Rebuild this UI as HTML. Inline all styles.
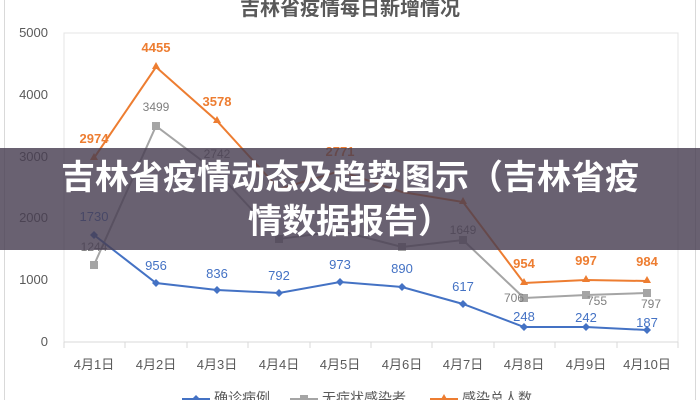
<!DOCTYPE html>
<html><head><meta charset="utf-8"><style>
body{margin:0;width:700px;height:400px;overflow:hidden;background:#fff;font-family:"Liberation Sans","Noto Sans CJK SC",sans-serif}
.ban{position:absolute;left:0;top:148px;width:700px;height:102px;background:rgba(72,62,82,0.82);color:#fff;font-weight:bold;font-size:34px;line-height:44px;text-align:center;font-family:"Liberation Sans","Noto Sans CJK SC",sans-serif;padding-top:8px;box-sizing:border-box}
</style></head><body>
<svg width="700" height="400" style="position:absolute;left:0;top:0" font-family="Liberation Sans, Noto Sans CJK SC, sans-serif">
<rect x="4.5" y="-5" width="691" height="420" fill="none" stroke="#d9d9d9"/>
<text x="350" y="15" text-anchor="middle" font-size="20" font-weight="bold" fill="#595959">吉林省疫情每日新增情况</text>
<rect x="64" y="33" width="614" height="309" fill="none" stroke="#e4e4e4"/>
<line x1="64" y1="342" x2="678" y2="342" stroke="#d9d9d9"/>
<g stroke="#d9d9d9">
<line x1="64" y1="342" x2="64" y2="348"/><line x1="125" y1="342" x2="125" y2="348"/><line x1="187" y1="342" x2="187" y2="348"/><line x1="248" y1="342" x2="248" y2="348"/><line x1="310" y1="342" x2="310" y2="348"/><line x1="371" y1="342" x2="371" y2="348"/><line x1="432" y1="342" x2="432" y2="348"/><line x1="494" y1="342" x2="494" y2="348"/><line x1="555" y1="342" x2="555" y2="348"/><line x1="617" y1="342" x2="617" y2="348"/><line x1="678" y1="342" x2="678" y2="348"/>
</g>
<g font-size="13" fill="#595959" text-anchor="end">
<text x="48" y="37">5000</text><text x="48" y="99">4000</text><text x="48" y="161">3000</text><text x="48" y="222">2000</text><text x="48" y="284">1000</text><text x="48" y="346">0</text>
</g>
<g font-size="13" fill="#595959" text-anchor="middle">
<text x="94" y="369">4月1日</text><text x="156" y="369">4月2日</text><text x="217" y="369">4月3日</text><text x="279" y="369">4月4日</text><text x="340" y="369">4月5日</text><text x="402" y="369">4月6日</text><text x="463" y="369">4月7日</text><text x="524" y="369">4月8日</text><text x="586" y="369">4月9日</text><text x="647" y="369">4月10日</text>
</g>
<!-- total -->
<polyline fill="none" stroke="#ed7d31" stroke-width="2" points="94,158 156,67 217,121 279,189 340,171 402,192 463,202 524,283 586,280 647,281"/>
<g fill="#ed7d31"><path d="M94,153 l4,7 h-8z"/><path d="M156,62 l4,7 h-8z"/><path d="M217,116 l4,7 h-8z"/><path d="M524,278 l4,7 h-8z"/><path d="M586,275 l4,7 h-8z"/><path d="M647,276 l4,7 h-8z"/><path d="M463,197 l4,7 h-8z"/></g>
<g font-size="13" font-weight="bold" fill="#ed7d31" text-anchor="middle">
<text x="94" y="143">2974</text><text x="156" y="52">4455</text><text x="217" y="106">3578</text><text x="340" y="156">2771</text><text x="524" y="268">954</text><text x="586" y="265">997</text><text x="647" y="266">984</text>
</g>
<!-- asymptomatic -->
<polyline fill="none" stroke="#a5a5a5" stroke-width="2" points="94,265 156,126 217,172 279,239 340,231 402,247 463,240 524,298 586,295 647,293"/>
<g fill="#a5a5a5"><rect x="90" y="261" width="8" height="8"/><rect x="152" y="122" width="8" height="8"/><rect x="275" y="235" width="8" height="8"/><rect x="398" y="243" width="8" height="8"/><rect x="459" y="236" width="8" height="8"/><rect x="520" y="294" width="8" height="8"/><rect x="582" y="291" width="8" height="8"/><rect x="643" y="289" width="8" height="8"/></g>
<g font-size="12" fill="#7f7f7f" text-anchor="middle">
<text x="94" y="251">1244</text><text x="156" y="111">3499</text><text x="217" y="158">2742</text><text x="463" y="234">1649</text><text x="514" y="302">706</text><text x="597" y="305">755</text><text x="651" y="308">797</text>
</g>
<!-- confirmed -->
<polyline fill="none" stroke="#4472c4" stroke-width="2" points="94,235 156,283 217,290 279,293 340,282 402,287 463,304 524,327 586,327 647,330"/>
<g fill="#4472c4"><path d="M94,231 l4,4 -4,4 -4,-4z"/><path d="M156,279 l4,4 -4,4 -4,-4z"/><path d="M217,286 l4,4 -4,4 -4,-4z"/><path d="M279,289 l4,4 -4,4 -4,-4z"/><path d="M340,278 l4,4 -4,4 -4,-4z"/><path d="M402,283 l4,4 -4,4 -4,-4z"/><path d="M463,300 l4,4 -4,4 -4,-4z"/><path d="M524,323 l4,4 -4,4 -4,-4z"/><path d="M586,323 l4,4 -4,4 -4,-4z"/><path d="M647,326 l4,4 -4,4 -4,-4z"/></g>
<g font-size="13" fill="#4472c4" text-anchor="middle">
<text x="94" y="221">1730</text><text x="156" y="270">956</text><text x="217" y="278">836</text><text x="279" y="280">792</text><text x="340" y="269">973</text><text x="402" y="273">890</text><text x="463" y="291">617</text><text x="524" y="321">248</text><text x="586" y="322">242</text><text x="647" y="327">187</text>
</g>
<!-- legend -->
<g font-size="14" fill="#595959">
<line x1="182" y1="399" x2="210" y2="399" stroke="#4472c4" stroke-width="2"/><path d="M196,395 l4,4 -4,4 -4,-4z" fill="#4472c4"/><text x="214" y="403">确诊病例</text>
<line x1="290" y1="399" x2="318" y2="399" stroke="#a5a5a5" stroke-width="2"/><rect x="300" y="395" width="8" height="8" fill="#a5a5a5"/><text x="322" y="403">无症状感染者</text>
<line x1="430" y1="399" x2="458" y2="399" stroke="#ed7d31" stroke-width="2"/><path d="M444,394 l4,7 h-8z" fill="#ed7d31"/><text x="462" y="403">感染总人数</text>
</g>
</svg>
<div class="ban">吉林省疫情动态及趋势图示（吉林省疫<br>情数据报告）</div>
</body></html>
